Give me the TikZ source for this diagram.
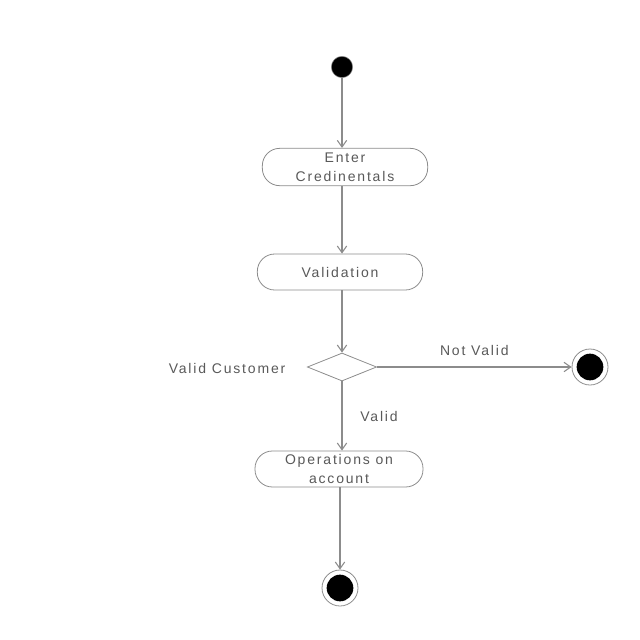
\documentclass[tikz,border=0pt]{standalone}
\usepackage{fontspec}
\setmainfont{Liberation Sans}[LetterSpace=13]
\usetikzlibrary{arrows.meta,shapes.geometric}
\definecolor{ln}{gray}{0.55}
\definecolor{tx}{gray}{0.35}
\begin{document}
\begin{tikzpicture}[x=0.75pt,y=-0.75pt,
  every node/.style={font=\fontsize{10.5pt}{14pt}\selectfont, text=tx},
  act/.style={draw=ln, line width=0.6pt, rounded corners=13pt, inner sep=0pt, align=center, fill=white},
  startst/.style={circle, fill=black, draw=ln, line width=0.4pt, minimum size=16pt, inner sep=0pt},
  endst/.style={circle, draw=ln, line width=0.6pt, minimum size=27pt, inner sep=0pt,
    path picture={\fill[black] (path picture bounding box.center) circle (10pt);}},
  dec/.style={diamond, draw=ln, line width=0.6pt, aspect=2.5, minimum width=52pt, minimum height=21pt, inner sep=0pt},
  flow/.style={draw=ln, line width=0.8pt, -{Straight Barb[length=5pt,width=7pt]}}]
\useasboundingbox (0,0) rectangle (640,640);
\node[startst] (s) at (342,67) {};
\node[act, minimum width=124pt, minimum height=28pt] (e) at (345,167) {Enter\\Credinentals};
\node[act, minimum width=124pt, minimum height=27pt] (v) at (340,272) {Validation};
\node[dec] (d) at (342,367) {};
\node[act, minimum width=126pt, minimum height=27pt] (o) at (339,469) {Operations on\\account};
\node[endst] (f1) at (590,367) {};
\node[endst] (f2) at (340,588) {};
\node[anchor=east] (vc) at (290,368) {Valid Customer};
\draw[flow] (s) -- (s |- e.north);
\draw[flow] (s |- e.south) -- (s |- v.north);
\draw[flow] (s |- v.south) -- (d.north);
\draw[flow] (d.east) -- node[above=5pt] (nv) {Not Valid} (f1);
\draw[flow] (d.south) -- node[right=10pt] (va) {Valid} (d |- o.north);
\draw[flow] (f2 |- o.south) -- (f2);
\end{tikzpicture}
\end{document}
